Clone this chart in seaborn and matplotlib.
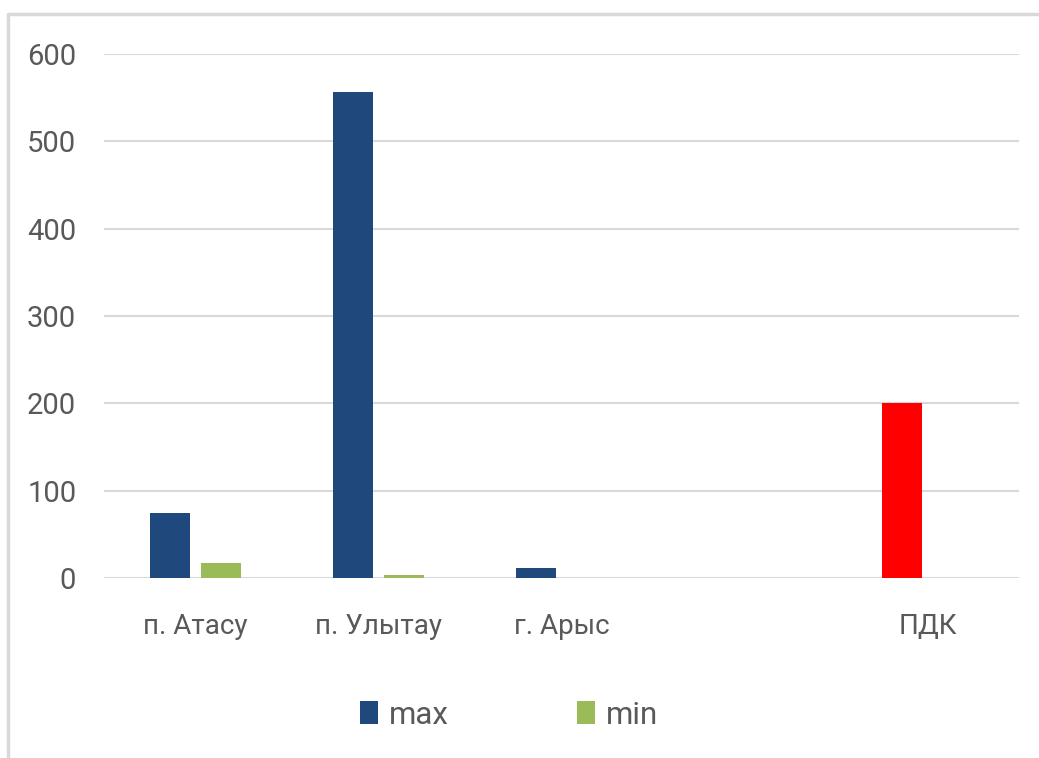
import matplotlib
matplotlib.use("Agg")
import matplotlib.pyplot as plt
from matplotlib.lines import Line2D
from matplotlib import font_manager
import seaborn as sns
import pandas as pd
import numpy as np

# ---- data ----
categories = ["п. Атасу", "п. Улытау", "г. Арыс", " ", "ПДК"]
max_values = [75, 556, 12, np.nan, 200]
min_values = [17, 4, 0, np.nan, np.nan]
series_names = ["max", "min"]
y_ticks = [0, 100, 200, 300, 400, 500, 600]

sns.set_theme(style="white")
names = {f.name for f in font_manager.fontManager.ttflist}
base = "Liberation Sans Narrow" if "Liberation Sans Narrow" in names else "Roboto"
plt.rcParams["font.family"] = [base, "DejaVu Sans"]

rows = []
for c, mx, mn in zip(categories, max_values, min_values):
    rows.append({"cat": c, "series": series_names[0], "value": mx})
    rows.append({"cat": c, "series": series_names[1], "value": mn})
df = pd.DataFrame(rows)

W, H = 1039, 758
fig = plt.figure(figsize=(W / 100, H / 100), dpi=100)
ax = fig.add_axes([104 / W, 1 - 578 / H, (1019 - 104) / W, (578 - 54) / H])

palette = {"max": "#1F497D", "min": "#9BBB59"}
sns.barplot(data=df, x="cat", y="value", hue="series", order=categories,
            hue_order=series_names, palette=palette, width=0.568, gap=0.23,
            errorbar=None, saturation=1, linewidth=0, ax=ax, legend=False)

# ПДК bar is drawn in red
pdk_idx = categories.index("ПДК")
for patch in ax.containers[0]:
    cx = patch.get_x() + patch.get_width() / 2
    if abs(cx - pdk_idx) < 0.5:
        patch.set_facecolor("#FF0000")

ax.set_xlim(-0.5, len(categories) - 0.5)
ax.set_ylim(0, 600)
ax.set_yticks(y_ticks)
ax.set_yticklabels([str(t) for t in y_ticks])
ax.yaxis.grid(True, color="#D9D9D9", linewidth=1.5)
ax.set_axisbelow(True)
for s in ax.spines.values():
    s.set_visible(False)
ax.set_xlabel("")
ax.set_ylabel("")
ax.tick_params(axis="y", length=0, pad=20, labelsize=21, labelcolor="#595959")
ax.tick_params(axis="x", length=0, pad=25, labelsize=20, labelcolor="#595959")

# legend
handles = [plt.Rectangle((0, 0), 1, 1, facecolor=palette[s], edgecolor="none") for s in series_names]
fig.legend(handles, series_names, loc="center", bbox_to_anchor=(509 / W, 1 - 715 / H),
           ncol=2, frameon=False, fontsize=22.5, handlelength=0.58, handleheight=0.77,
           handletextpad=0.35, columnspacing=4.1, labelcolor="#595959")

# chart-area border (top and left visible)
fig.add_artist(Line2D([8 / W, 1.0], [1 - 13.5 / H, 1 - 13.5 / H], transform=fig.transFigure,
                      color="#D9D9D9", linewidth=2.5))
fig.add_artist(Line2D([8 / W, 8 / W], [1 - 13.5 / H, 0], transform=fig.transFigure,
                      color="#D9D9D9", linewidth=2.5))

fig.savefig("out.png", dpi=100)
